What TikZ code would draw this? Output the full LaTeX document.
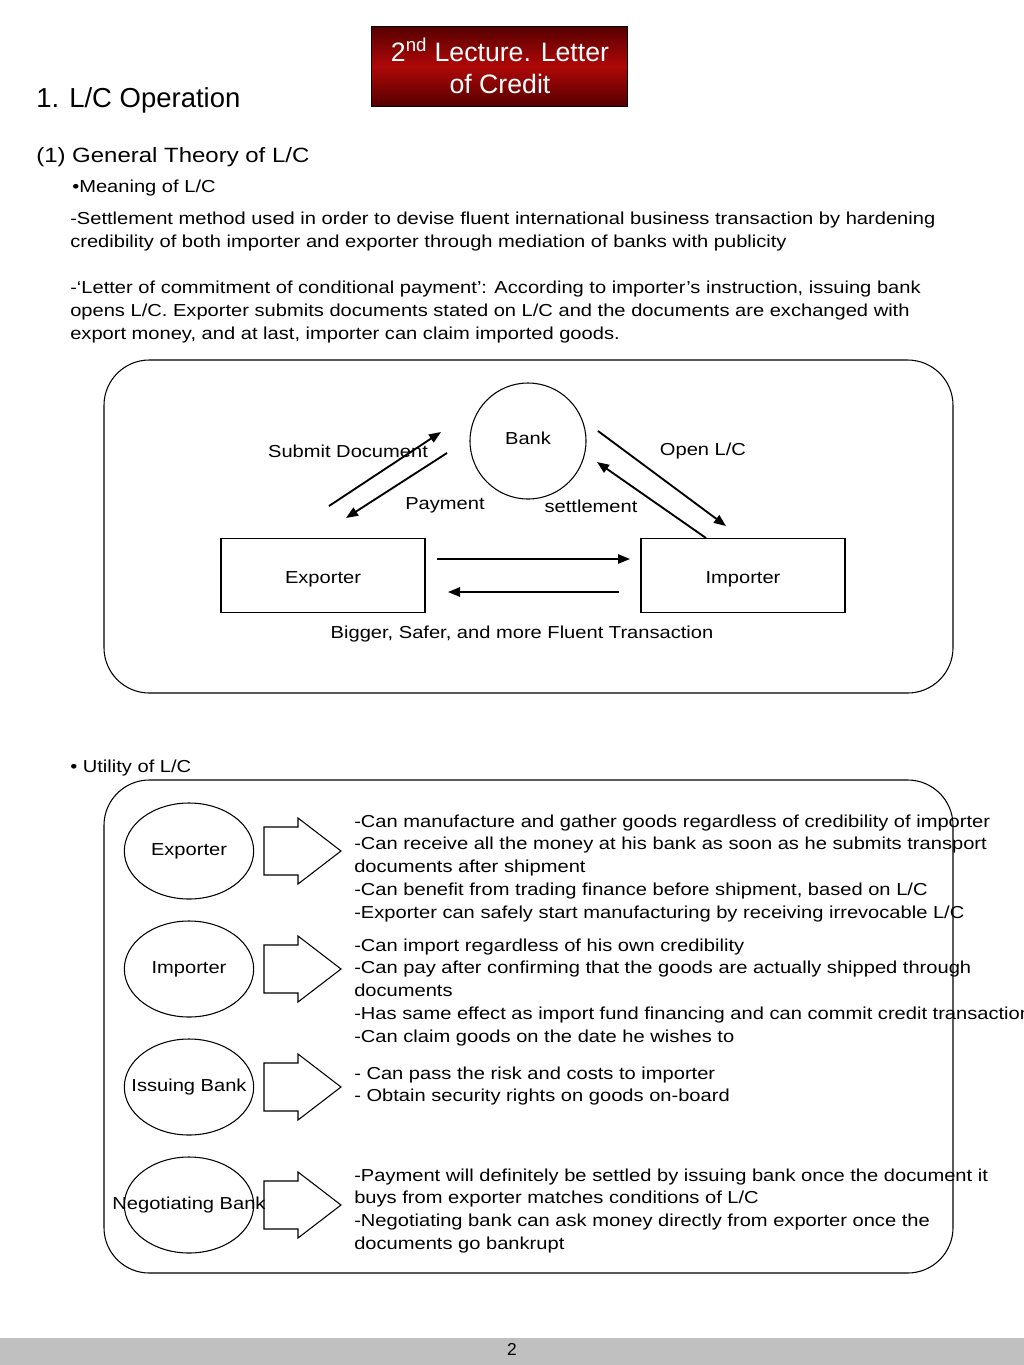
\documentclass[tikz,border=0pt]{standalone}
\usepackage{fontspec}
\setmainfont{Liberation Sans}
\newfontfamily\bodyfont{Liberation Sans}[FakeStretch=1.16]
\usetikzlibrary{positioning,arrows.meta,shapes.geometric}
\definecolor{lcred}{RGB}{175,8,8}
\definecolor{lcdark}{RGB}{85,0,0}
\definecolor{footgray}{RGB}{192,192,192}
\tikzset{
  line/.style={line width=1.4pt,-{Triangle[length=9pt,width=7pt]}},
  party/.style={draw,line width=0.8pt,minimum width=153pt,minimum height=56pt,text height=15pt,text depth=3pt,font=\bodyfont\fontsize{13}{15}\selectfont},
  actor/.style={draw,line width=0.8pt,ellipse,minimum width=97pt,minimum height=72pt,inner sep=0pt},
  lbl/.style={inner sep=0pt,font=\bodyfont\fontsize{13}{15}\selectfont},
  txt/.style={anchor=base west,inner sep=0pt,font=\bodyfont\fontsize{13}{15}\selectfont},
  frame/.style={draw,line width=0.8pt,rounded corners=34pt}
}
\newcommand{\blockarrow}[2]{% left x, centre y
  \draw[line width=0.8pt] (#1,#2-24) -- (#1+34,#2-24) -- (#1+34,#2-33) -- (#1+77,#2)
    -- (#1+34,#2+33) -- (#1+34,#2+24) -- (#1,#2+24) -- cycle;}
\begin{document}
\begin{tikzpicture}[x=0.75pt,y=-0.75pt]
\useasboundingbox (0,0) rectangle (1024,1365);
\clip (0,0) rectangle (1024,1365);

% title box
\shade[top color=lcdark,bottom color=lcdark,middle color=lcred] (371,26) rectangle (627,106);
\draw[line width=0.6pt] (371,26) rectangle (627,106);
\node[inner sep=0pt,text=white,font=\fontsize{20}{24}\selectfont,align=center] (title) at (500,66)
  {2\textsuperscript{nd} Lecture. Letter\\of Credit};

% headings
\node[anchor=base west,inner sep=0pt,font=\fontsize{20.6}{24}\selectfont] (h1) at (36,107) {1. L/C Operation};
\node[txt,font=\bodyfont\fontsize{15.5}{20}\selectfont] (h2) at (36,162) {(1) General Theory of L/C};
\node[txt] (h3) at (72,192) {•Meaning of L/C};

\node[txt] (p1) at (70,224) {-Settlement method used in order to devise fluent international business transaction by hardening};
\node[txt] (p2) at (70,247) {credibility of both importer and exporter through mediation of banks with publicity};
\node[txt] (p3) at (70,293) {-‘Letter of commitment of conditional payment’: According to importer’s instruction, issuing bank};
\node[txt] (p4) at (70,316) {opens L/C. Exporter submits documents stated on L/C and the documents are exchanged with};
\node[txt] (p5) at (70,339) {export money, and at last, importer can claim imported goods.};

% first diagram
\draw[frame] (104,360) rectangle (953,693);
\node[draw,circle,line width=0.8pt,minimum size=87pt] (bank) at (528,441) {};
\node[lbl] (banklbl) at (528,438) {Bank};
\node[party] (exp) at (323,575.5) {Exporter};
\node[party] (imp) at (743,575.5) {Importer};

\coordinate (sd1) at (329,506); \coordinate (sd2) at (441,432);
\coordinate (pa1) at (447,453); \coordinate (pa2) at (346,518);
\coordinate (ol1) at (598,431); \coordinate (ol2) at (726,526);
\coordinate (se1) at (706,538); \coordinate (se2) at (597,462);
\coordinate (go1) at (437,559); \coordinate (go2) at (630,559);
\coordinate (mo1) at (619,592); \coordinate (mo2) at (448,592);
\draw[line] (sd1) -- (sd2);
\draw[line] (pa1) -- (pa2);
\draw[line] (ol1) -- (ol2);
\draw[line] (se1) -- (se2);
\draw[line] (go1) -- (go2);
\draw[line] (mo1) -- (mo2);

\node[lbl] (sdlbl) at (348,451) {Submit Document};
\node[lbl] (palbl) at (445,505) {Payment};
\node[lbl] (selbl) at (591,506) {settlement};
\node[lbl] (ollbl) at (703,451) {Open L/C};
\node[lbl] (btlbl) at (522,634) {Bigger, Safer, and more Fluent Transaction};

% second diagram
\node[txt] (h4) at (70,772) {• Utility of L/C};
\draw[frame] (104,780) rectangle (953,1273);
\node[actor] (uexp) at (189,851) {};
\node[actor] (uimp) at (189,969) {};
\node[actor] (uiss) at (189,1087) {};
\node[actor] (uneg) at (189,1205) {};
\node[lbl] (uexplbl) at (uexp) {Exporter};
\node[lbl] (uimplbl) at (uimp) {Importer};
\node[lbl] (uisslbl) at (uiss) {Issuing Bank};
\node[lbl] (uneglbl) at (uneg) {Negotiating Bank};
\blockarrow{264}{851}
\blockarrow{264}{969}
\blockarrow{264}{1087}
\blockarrow{264}{1205}

\foreach \t [count=\i] in {-Can manufacture and gather goods regardless of credibility of importer,
  -Can receive all the money at his bank as soon as he submits transport,
  documents after shipment,
  {-Can benefit from trading finance before shipment, based on L/C},
  -Exporter can safely start manufacturing by receiving irrevocable L/C}
  \node[txt] (ex\i) at (354,827+22.8*\i-22.8) {\t};
\foreach \t [count=\i] in {-Can import regardless of his own credibility,
  -Can pay after confirming that the goods are actually shipped through,
  documents,
  -Has same effect as import fund financing and can commit credit transaction,
  -Can claim goods on the date he wishes to}
  \node[txt] (im\i) at (354,951+22.8*\i-22.8) {\t};
\foreach \t [count=\i] in {- Can pass the risk and costs to importer,
  - Obtain security rights on goods on-board}
  \node[txt] (is\i) at (354,1079+22.8*\i-22.8) {\t};
\foreach \t [count=\i] in {-Payment will definitely be settled by issuing bank once the document it,
  buys from exporter matches conditions of L/C,
  -Negotiating bank can ask money directly from exporter once the,
  documents go bankrupt}
  \node[txt] (ng\i) at (354,1181+22.8*\i-22.8) {\t};

% footer
\fill[footgray] (0,1338) rectangle (1024,1365);
\node[inner sep=0pt,font=\fontsize{13}{14}\selectfont] (page) at (512,1349) {2};
\end{tikzpicture}
\end{document}
